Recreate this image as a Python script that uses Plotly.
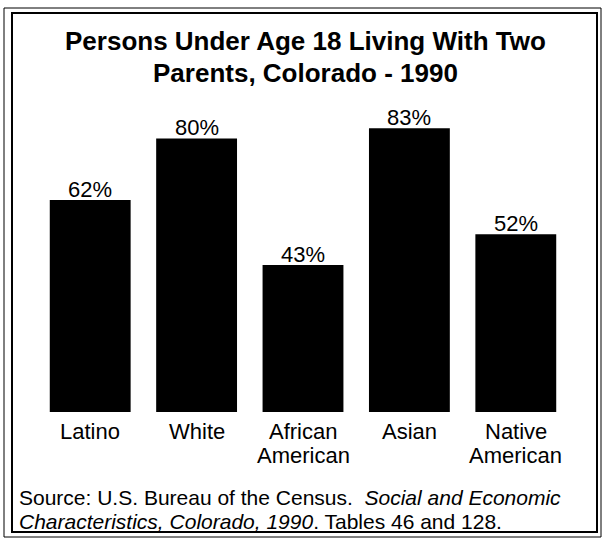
import plotly.graph_objects as go

# Data
categories = ["Latino", "White", "African\nAmerican", "Asian", "Native\nAmerican"]
values = [62, 80, 43, 83, 52]
title_lines = ["Persons Under Age 18 Living With Two", "Parents, Colorado - 1990"]
source_lines = [
    "Source: U.S. Bureau of the Census.\u00a0\u00a0<i>Social and Economic</i>",
    "<i>Characteristics, Colorado, 1990</i>. Tables 46 and 128.",
]

W, H = 603, 543
ML, MR, MT, MB = 37, 34, 70, 131
PW, PH = W - ML - MR, H - MT - MB
FONT = "Liberation Sans, Arial, Helvetica, sans-serif"


def px_x(x):
    return (x - ML) / PW


def px_y(y):
    return (H - MB - y) / PH


xs = list(range(len(categories)))

fig = go.Figure(
    go.Bar(
        x=xs,
        y=values,
        marker=dict(color="black", line=dict(width=0)),
        width=0.76,
        hoverinfo="skip",
    )
)

annotations = []
# Value labels sitting just above each bar
for xi, v in zip(xs, values):
    annotations.append(dict(
        text=f"{v}%", xref="x", yref="y", x=xi, y=v,
        xanchor="center", yanchor="bottom", yshift=-4,
        showarrow=False, font=dict(family=FONT, size=22, color="black"),
    ))

# Title, one annotation per line for tight line spacing
for i, line in enumerate(title_lines):
    annotations.append(dict(
        text=f"<b>{line}</b>", xref="paper", yref="paper",
        x=px_x(305), y=px_y(41 + i * 32), xanchor="center", yanchor="middle",
        showarrow=False, font=dict(family=FONT, size=26, color="black"),
    ))

# Category labels under each bar
for xi, cat in zip(xs, categories):
    for j, part in enumerate(cat.split("\n")):
        annotations.append(dict(
            text=part, xref="x", yref="paper",
            x=xi, y=px_y(432 + j * 23), xanchor="center", yanchor="middle",
            showarrow=False, font=dict(family=FONT, size=22, color="black"),
        ))

# Source note
for k, line in enumerate(source_lines):
    annotations.append(dict(
        text=line, xref="paper", yref="paper",
        x=px_x(17), y=px_y(497 + k * 24), xanchor="left", yanchor="middle",
        showarrow=False, font=dict(family=FONT, size=21, color="black"),
    ))

shapes = [
    dict(type="rect", xref="paper", yref="paper",
         x0=px_x(4), x1=px_x(601), y0=px_y(8), y1=px_y(537),
         line=dict(color="black", width=1)),
    dict(type="rect", xref="paper", yref="paper",
         x0=px_x(12), x1=px_x(597), y0=px_y(13), y1=px_y(532),
         line=dict(color="black", width=2)),
]

fig.update_layout(
    width=W, height=H,
    margin=dict(l=ML, r=MR, t=MT, b=MB),
    paper_bgcolor="white", plot_bgcolor="white",
    showlegend=False,
    bargap=0.24,
    xaxis=dict(range=[-0.5, len(categories) - 0.5], showticklabels=False,
               showgrid=False, zeroline=False, showline=False, ticks=""),
    yaxis=dict(range=[0, 100], visible=False, showgrid=False, zeroline=False),
    annotations=annotations,
    shapes=shapes,
    font=dict(family=FONT, color="black"),
)

fig.write_html("out.html")
